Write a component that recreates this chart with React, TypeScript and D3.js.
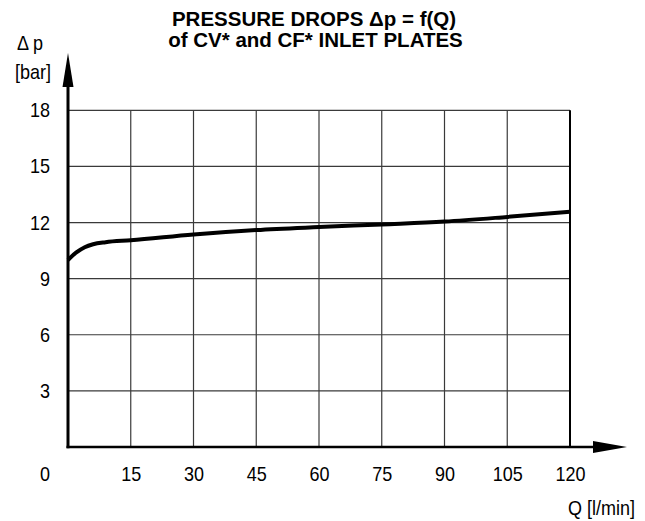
import React, { useEffect, useRef } from 'react';
import * as d3 from 'd3';

const flowQ = [0, 2, 4, 6, 9, 15, 30, 45, 60, 75, 90, 105, 120];
const pressureDrop = [10.0, 10.4, 10.68, 10.84, 10.95, 11.05, 11.36, 11.6, 11.76, 11.9, 12.05, 12.3, 12.58];
const xTicks = [0, 15, 30, 45, 60, 75, 90, 105, 120];
const yTicks = [3, 6, 9, 12, 15, 18];

const W = 645, H = 521;
const FONT = '"Liberation Sans", Arial, Helvetica, sans-serif';

// labels in the drawing are a slightly narrow, tall Arial
const label = (g: d3.Selection<any, any, any, any>, tx: number, ty: number, txt: string, anchor: string) =>
    g.append('text')
        .attr('transform', `translate(${tx},${ty}) scale(0.9,1)`)
        .attr('text-anchor', anchor)
        .style('font-family', FONT)
        .style('font-size', '20px')
        .text(txt);

const drawChart = (container: SVGSVGElement) => {
    d3.select(container).selectAll('*').remove();
    const svg = d3.select(container).attr('width', W).attr('height', H);

    const x = d3.scaleLinear().domain([0, 120]).range([68, 570]);
    const y = d3.scaleLinear().domain([0, 18]).range([447, 110.3]);

    svg.append('rect').attr('width', W).attr('height', H).attr('fill', '#fff');

    // grid
    const grid = svg.append('g').attr('stroke', '#3a3a3a').attr('stroke-width', 1.2);
    grid.selectAll('.vg')
        .data(xTicks.filter(d => d > 0 && d < 120))
        .enter().append('line')
        .attr('x1', d => x(d)).attr('x2', d => x(d))
        .attr('y1', y(0)).attr('y2', y(18));
    grid.selectAll('.hg')
        .data(yTicks)
        .enter().append('line')
        .attr('x1', x(0)).attr('x2', x(120))
        .attr('y1', d => y(d)).attr('y2', d => y(d));
    svg.append('line')
        .attr('x1', x(120)).attr('x2', x(120))
        .attr('y1', y(0)).attr('y2', y(18))
        .attr('stroke', '#000').attr('stroke-width', 2);

    // axes with arrows
    svg.append('line')
        .attr('x1', x(0)).attr('x2', x(0))
        .attr('y1', y(0) + 1.2).attr('y2', 80)
        .attr('stroke', '#000').attr('stroke-width', 3);
    svg.append('path')
        .attr('d', `M${x(0)},53 L${x(0) - 5.5},87 L${x(0) + 5.5},87 Z`)
        .attr('fill', '#000');
    svg.append('line')
        .attr('x1', x(0) - 1.5).attr('x2', 600)
        .attr('y1', y(0)).attr('y2', y(0))
        .attr('stroke', '#000').attr('stroke-width', 2.6);
    svg.append('path')
        .attr('d', `M627,${y(0)} L593,${y(0) - 6} L593,${y(0) + 6} Z`)
        .attr('fill', '#000');

    // curve
    const line = d3.line<number>()
        .x((d, i) => x(flowQ[i]))
        .y(d => y(d))
        .curve(d3.curveMonotoneX);
    svg.append('path')
        .attr('d', line(pressureDrop))
        .attr('fill', 'none')
        .attr('stroke', '#000')
        .attr('stroke-width', 4)
        .attr('stroke-linejoin', 'round');

    // tick labels
    xTicks.forEach(d => label(svg, d === 0 ? 45 : x(d) + 0.5, 481, String(d), 'middle'));
    yTicks.forEach(d => label(svg, 50, y(d) + 7, String(d), 'end'));

    // axis titles
    label(svg, 30, 50, '\u0394 p', 'middle');
    label(svg, 33, 79, '[bar]', 'middle');
    label(svg, 635, 515, 'Q [l/min]', 'end');

    // title
    const title = svg.append('text').attr('text-anchor', 'middle')
        .style('font-family', FONT).style('font-size', '20.5px').style('font-weight', 'bold');
    title.append('tspan').attr('x', 314).attr('y', 26).text('PRESSURE DROPS \u0394p = f(Q)');
    title.append('tspan').attr('x', 315.5).attr('y', 47).text('of CV* and CF* INLET PLATES');
};

const App = () => {
    const ref = useRef<SVGSVGElement>(null);

    useEffect(() => {
        if (ref.current) {
            drawChart(ref.current);
        }
    }, []);

    return (
        <div>
            <svg ref={ref} style={{ position: 'absolute', left: 0, top: 0 }} />
        </div>
    );
};

export default App;
